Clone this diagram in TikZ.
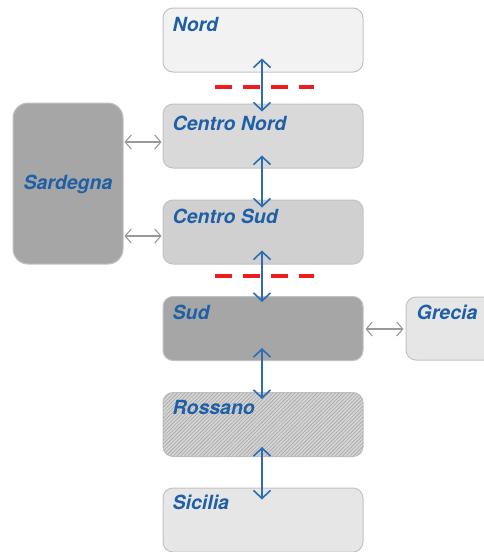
\documentclass[tikz,border=0pt]{standalone}
\usepackage{fontspec}
\setmainfont{TeX Gyre Heros}
\usetikzlibrary{arrows.meta,patterns.meta}
\definecolor{txtblue}{HTML}{1F5FA6}
\definecolor{arrblue}{HTML}{2E6DB0}
\definecolor{bord}{HTML}{C2C2C2}
\definecolor{redd}{HTML}{EE1C1C}
\definecolor{fnord}{HTML}{F2F2F2}
\definecolor{fcnord}{HTML}{D9D9D9}
\definecolor{fcsud}{HTML}{D0D0D0}
\definecolor{fdark}{HTML}{A6A6A6}
\definecolor{fross}{HTML}{D4D4D4}
\definecolor{flight}{HTML}{E6E6E6}
\begin{document}
\begin{tikzpicture}[x=1pt,y=-1pt,
  region/.style={draw=bord, line width=1pt, rounded corners=10pt, inner sep=0pt, minimum width=200pt, minimum height=64pt},
  lbl/.style={anchor=base west, inner sep=0pt, text=txtblue, font=\fontsize{19.5}{22}\selectfont\bfseries\itshape},
  varrow/.style={draw=arrblue, line width=2.2pt, {Straight Barb[length=8pt,width=17pt,line width=1.6pt]}-{Straight Barb[length=8pt,width=17pt,line width=1.6pt]}},
  harrow/.style={draw=gray!80, line width=1.6pt, {Straight Barb[length=6pt,width=14pt,line width=1.1pt]}-{Straight Barb[length=6pt,width=14pt,line width=1.1pt]}},
  border/.style={draw=redd, line width=4pt, dash pattern=on 17pt off 11pt}]
\clip (0,0) rectangle (484,552);
\useasboundingbox (0,0) rectangle (484,552);
\fill[white] (0,0) rectangle (484,552);
% boxes
\node[region, fill=fnord] (nord) at (263,40) {};
\node[region, fill=fcnord] (cnord) at (263,136) {};
\node[region, fill=fcsud] (csud) at (263,232) {};
\node[region, fill=fdark] (sud) at (263,328.5) {};
\node[region, fill=fross, postaction={pattern={Lines[angle=45,distance=2.6pt,line width=0.6pt]}, pattern color=gray!70}] (ross) at (263,424.5) {};
\node[region, fill=flight] (sic) at (263,520) {};
\node[region, fill=fdark, rounded corners=15pt, minimum width=110pt, minimum height=161pt] (sard) at (68,183.5) {};
\node[region, fill=flight, minimum width=100pt, minimum height=63pt] (grec) at (456,328.5) {};
% labels
\node[lbl] (tnord) at ([xshift=10pt,yshift=-24pt]nord.north west) {Nord};
\node[lbl] (tcnord) at ([xshift=10pt,yshift=-27pt]cnord.north west) {Centro Nord};
\node[lbl] (tcsud) at ([xshift=10pt,yshift=-24pt]csud.north west) {Centro Sud};
\node[lbl] (tsud) at ([xshift=10pt,yshift=-23pt]sud.north west) {Sud};
\node[lbl] (tross) at ([xshift=10pt,yshift=-22pt]ross.north west) {Rossano};
\node[lbl] (tsic) at ([xshift=10pt,yshift=-22pt]sic.north west) {Sicilia};
\node[lbl, anchor=base] (tsard) at ([yshift=-6pt]sard.center) {Sardegna};
\node[lbl] (tgrec) at ([xshift=11pt,yshift=-23pt]grec.north west) {Grecia};
% red dashed borders
\coordinate (r1a) at (215,87); \coordinate (r1b) at (314,87);
\coordinate (r2a) at (215,276); \coordinate (r2b) at (314,276);
\draw[border] (r1a) -- (r1b);
\draw[border] (r2a) -- (r2b);
% vertical links
\draw[varrow] ([yshift=14pt]nord.south -| 262,0) -- ([yshift=-8pt]cnord.north -| 262,0);
\draw[varrow] ([yshift=13pt]cnord.south -| 262,0) -- ([yshift=-8pt]csud.north -| 262,0);
\draw[varrow] ([yshift=14pt]csud.south -| 262,0) -- ([yshift=-6pt]sud.north -| 262,0);
\draw[varrow] ([yshift=13pt]sud.south -| 262,0) -- ([yshift=-7pt]ross.north -| 262,0);
\draw[varrow] ([yshift=10pt]ross.south -| 262,0) -- ([yshift=-12pt]sic.north -| 262,0);
% horizontal links
\draw[harrow] ([xshift=1pt]sard.east |- 0,142) -- ([xshift=-1pt]cnord.west |- 0,142);
\draw[harrow] ([xshift=1pt]sard.east |- 0,236) -- ([xshift=-1pt]csud.west |- 0,236);
\draw[harrow] ([xshift=2pt]sud.east |- 0,329) -- ([xshift=-2pt]grec.west |- 0,329);
\end{tikzpicture}
\end{document}
